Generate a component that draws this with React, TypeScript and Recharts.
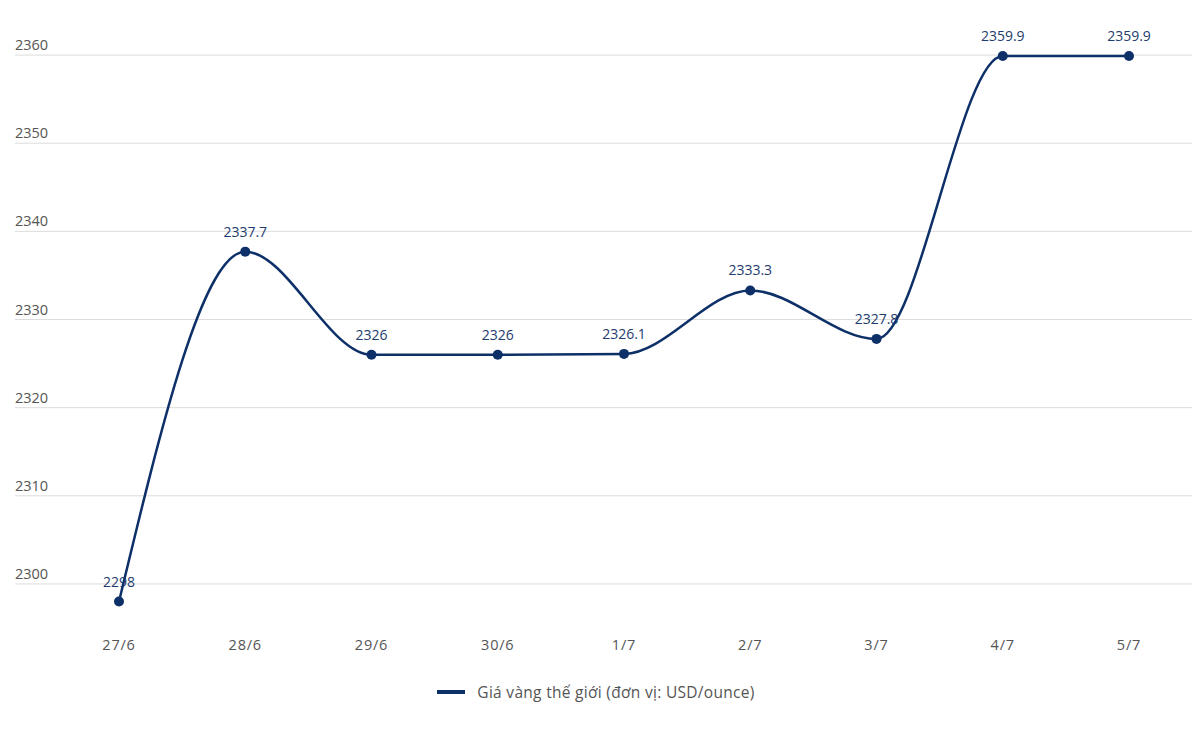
import { LineChart, Line, XAxis, YAxis, CartesianGrid, LabelList } from 'recharts'

const days = ['27/6', '28/6', '29/6', '30/6', '1/7', '2/7', '3/7', '4/7', '5/7']
const prices = [2298, 2337.7, 2326, 2326, 2326.1, 2333.3, 2327.8, 2359.9, 2359.9]
const yTicks = [2300, 2310, 2320, 2330, 2340, 2350, 2360]
const seriesName = 'Giá vàng thế giới (đơn vị: USD/ounce)'

const data = days.map((d, i) => ({ day: d, price: prices[i] }))

const LINE = '#0d3068'
const FONT = '"Open Sans", "Noto Sans", sans-serif'

function YTick({ y, payload }: { y?: number; payload?: { value: number } }) {
  return (
    <text x={15} y={(y ?? 0) - 5} textAnchor="start" fill="#555" fontSize={14.5} fontFamily={FONT}>
      {payload?.value}
    </text>
  )
}

function XTick({ x, payload }: { x?: number; payload?: { value: string } }) {
  return (
    <text x={x} y={650} textAnchor="middle" fill="#555" fontSize={14.5} letterSpacing={0.8} fontFamily={FONT}>
      {payload?.value}
    </text>
  )
}

export default function App() {
  return (
    <div style={{ position: 'absolute', left: 0, top: 0, width: 1192, height: 747, background: '#fff' }}>
      <LineChart width={1192} height={747} data={data} margin={{ top: 11, right: 0, bottom: 89, left: 0 }}>
        <CartesianGrid horizontal vertical={false} stroke="#dcdcdc" syncWithTicks />
        <XAxis
          dataKey="day"
          axisLine={false}
          tickLine={false}
          padding={{ left: 104, right: 63 }}
          height={30}
          tick={<XTick />}
        />
        <YAxis
          domain={[2295, 2365]}
          ticks={yTicks}
          interval={0}
          axisLine={false}
          tickLine={false}
          width={15}
          tick={<YTick />}
        />
        <Line
          type="monotone"
          dataKey="price"
          name={seriesName}
          stroke={LINE}
          strokeWidth={2.5}
          dot={{ r: 5, fill: LINE, stroke: LINE, strokeWidth: 0 }}
          isAnimationActive={false}
        >
          <LabelList dataKey="price" position="top" offset={15} fill="#1e3c6e" fontSize={14} fontFamily={FONT} />
        </Line>
      </LineChart>
      <div
        style={{
          position: 'absolute', left: 0, top: 681, width: 1192,
          display: 'flex', justifyContent: 'center', alignItems: 'center',
          fontFamily: FONT, fontSize: 15.5, color: '#555', letterSpacing: 0.3,
        }}
      >
        <span style={{ display: 'inline-block', width: 28, height: 4, background: LINE, marginRight: 12 }} />
        <span>{seriesName}</span>
      </div>
    </div>
  )
}
